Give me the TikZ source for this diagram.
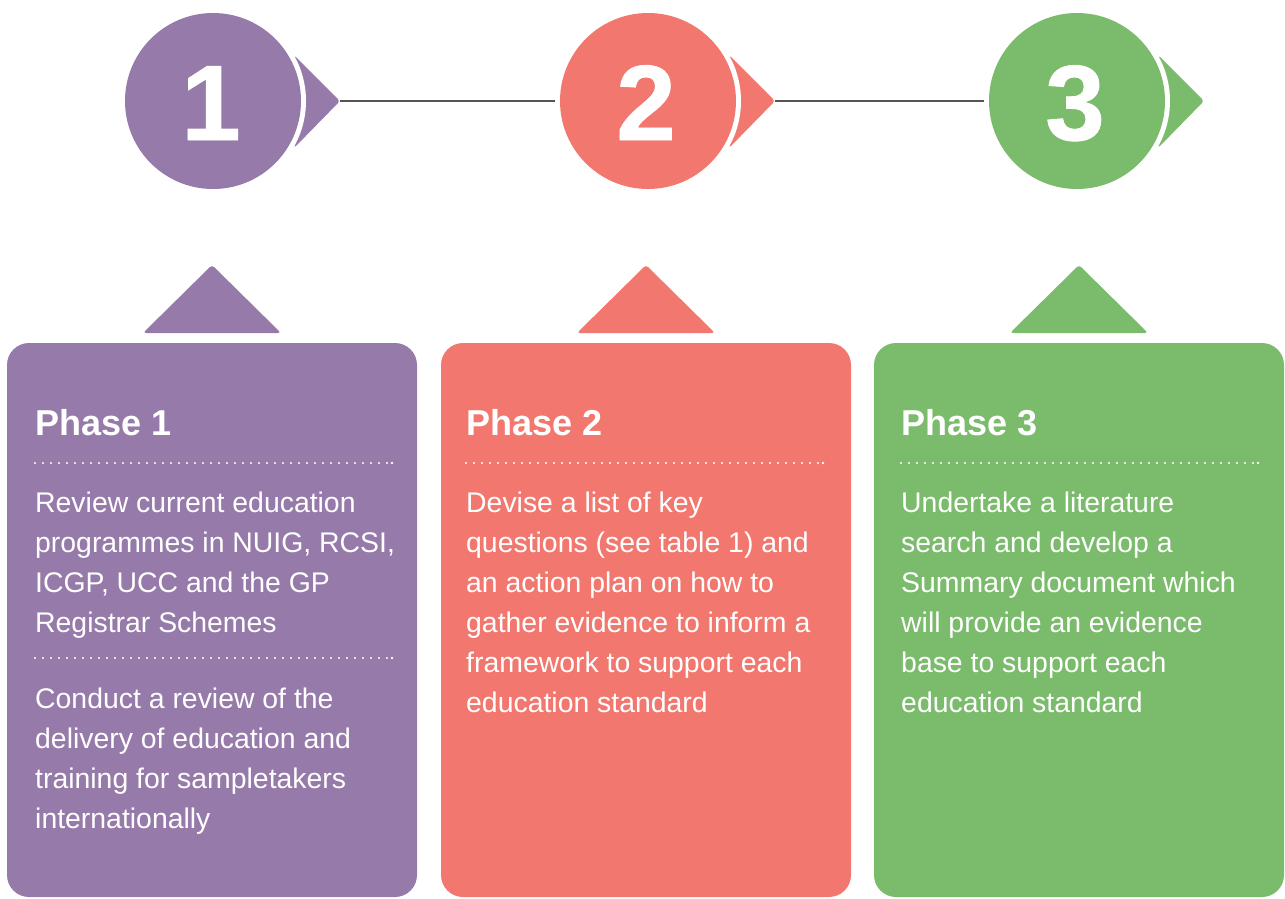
\documentclass[tikz,border=0pt]{standalone}
\usepackage{fontspec}
\setmainfont{Liberation Sans}
\newfontfamily\badgefont{Liberation Sans Bold}[FakeBold=0.8]
\begin{document}
\definecolor{phaseA}{HTML}{967AA9}
\definecolor{phaseB}{HTML}{F2786F}
\definecolor{phaseC}{HTML}{7BBB6C}
\definecolor{linkgrey}{HTML}{555555}
\begin{tikzpicture}[x=1pt,y=-1pt,
  bignum/.style={text=white,inner sep=0,anchor=base,
    font=\badgefont\fontsize{107}{107}\selectfont},
  phasehead/.style={text=white,inner sep=0,anchor=base west,
    font=\fontsize{36}{40}\selectfont\bfseries},
  phasetext/.style={text=white,inner sep=0,anchor=base west,align=left,
    font=\fontsize{28.4}{40}\selectfont},
  dotrule/.style={white,line width=2.4pt,line cap=round,
    dash pattern=on 0pt off 8pt},
  link/.style={linkgrey,line width=2pt},
  card/.style={rounded corners=22pt},
]
\useasboundingbox (0,0) rectangle (1285,898);

% badge: pointer triangle, white ring, coloured disc
\foreach \cx/\col/\num/\nm in {213/phaseA/1/c1, 648/phaseB/2/c2, 1077/phaseC/3/c3}{
  \fill[\col,rounded corners=3pt] (\cx+81,55) -- (\cx+127,101) -- (\cx+81,148) -- cycle;
  \fill[white] (\cx,101) circle[radius=93];
  \fill[\col] (\cx,101) circle[radius=88];
  \node[circle,minimum size=176pt,inner sep=0] (\nm) at (\cx,101) {};
  \coordinate (\nm tip) at (\cx+127,101);
  \node[bignum] (\nm num) at (\cx-2,140) {\num};
}
\draw[link] (c1tip) -- ([xshift=-5pt]c2.west);
\draw[link] (c2tip) -- ([xshift=-5pt]c3.west);

% cards with their up-pointing tabs
\foreach \lx/\col/\nm in {7/phaseA/p1, 441/phaseB/p2, 874/phaseC/p3}{
  \fill[\col,card] (\lx,343) rectangle (\lx+410,897);
  \fill[\col,rounded corners=3pt] (\lx+136,333) -- (\lx+205,265) -- (\lx+274,333) -- cycle;
  \coordinate (\nm) at (\lx+28,0);
}

% headings and dotted rules
\node[phasehead] (h1) at (35,435) {Phase 1};
\node[phasehead] (h2) at (466,435) {Phase 2};
\node[phasehead] (h3) at (901,435) {Phase 3};

\foreach \sx in {35,466,901}{
  \draw[dotrule] (\sx,463) -- (\sx+352,463);
  \fill[white] (\sx+357,463) circle[radius=1.3];
}
\draw[dotrule] (35,658) -- (387,658);
\fill[white] (392,658) circle[radius=1.3];

% body texts (a multi-line node sits on the baseline of its last line)
\node[phasetext] (t1a) at (35,632) {Review current education\\programmes in NUIG, RCSI,\\ICGP, UCC and the GP\\Registrar Schemes};
\node[phasetext] (t1b) at (35,828) {Conduct a review of the\\delivery of education and\\training for sampletakers\\internationally};
\node[phasetext] (t2) at (466,712) {Devise a list of key\\questions (see table 1) and\\an action plan on how to\\gather evidence to inform a\\framework to support each\\education standard};
\node[phasetext] (t3) at (901,712) {Undertake a literature\\search and develop a\\Summary document which\\will provide an evidence\\base to support each\\education standard};
\end{tikzpicture}
\end{document}
